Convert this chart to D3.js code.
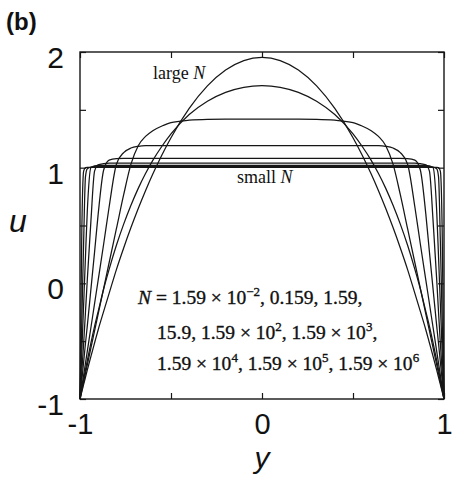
<!DOCTYPE html>
<html>
<head>
<meta charset="utf-8">
<script src="https://cdn.jsdelivr.net/npm/d3@7"></script>
<style>
  body { margin: 0; background: #fff; }
  svg { display: block; }
</style>
</head>
<body>
<svg id="chart" width="457" height="477"></svg>
<script>
// Transverse coordinate y, shared by every profile
const yGrid = [-1, -0.995, -0.99, -0.98, -0.97, -0.96, -0.94, -0.92, -0.9, -0.87, -0.84, -0.8, -0.76, -0.72, -0.68, -0.64, -0.6, -0.55, -0.5, -0.4, -0.3, -0.2, -0.1,
  0, 0.1, 0.2, 0.3, 0.4, 0.5, 0.55, 0.6, 0.64, 0.68, 0.72, 0.76, 0.8, 0.84, 0.87, 0.9, 0.92, 0.94, 0.96, 0.97, 0.98, 0.99, 0.995, 1];

// Velocity profiles u(y), one per value of N
const u_N1_59em2 = [-1, -0.27, 0.45, 0.97, 1.0, 1.003, 1.003, 1.003, 1.003, 1.003, 1.003, 1.003, 1.003, 1.003, 1.003, 1.003, 1.003, 1.003, 1.003, 1.003, 1.003, 1.003, 1.003,
  1.003, 1.003, 1.003, 1.003, 1.003, 1.003, 1.003, 1.003, 1.003, 1.003, 1.003, 1.003, 1.003, 1.003, 1.003, 1.003, 1.003, 1.003, 1.003, 1.0, 0.97, 0.45, -0.27, -1];
const u_N0_159 = [-1, -0.66, -0.32, 0.36, 0.92, 0.99, 1.005, 1.01, 1.01, 1.01, 1.01, 1.01, 1.01, 1.01, 1.01, 1.01, 1.01, 1.01, 1.01, 1.01, 1.01, 1.01, 1.01,
  1.01, 1.01, 1.01, 1.01, 1.01, 1.01, 1.01, 1.01, 1.01, 1.01, 1.01, 1.01, 1.01, 1.01, 1.01, 1.01, 1.01, 1.005, 0.99, 0.92, 0.36, -0.32, -0.66, -1];
const u_N1_59 = [-1, -0.80, -0.59, -0.18, 0.23, 0.62, 1.0, 1.015, 1.02, 1.02, 1.02, 1.02, 1.02, 1.02, 1.02, 1.02, 1.02, 1.02, 1.02, 1.02, 1.02, 1.02, 1.02,
  1.02, 1.02, 1.02, 1.02, 1.02, 1.02, 1.02, 1.02, 1.02, 1.02, 1.02, 1.02, 1.02, 1.02, 1.02, 1.02, 1.015, 1.0, 0.62, 0.23, -0.18, -0.59, -0.80, -1];
const u_N15_9 = [-1, -0.88, -0.76, -0.52, -0.25, 0.03, 0.54, 0.97, 1.025, 1.035, 1.04, 1.04, 1.04, 1.04, 1.04, 1.04, 1.04, 1.04, 1.04, 1.04, 1.04, 1.04, 1.04,
  1.04, 1.04, 1.04, 1.04, 1.04, 1.04, 1.04, 1.04, 1.04, 1.04, 1.04, 1.04, 1.04, 1.04, 1.035, 1.025, 0.97, 0.54, 0.03, -0.25, -0.52, -0.76, -0.88, -1];
const u_N1_59e2 = [-1, -0.92, -0.84, -0.68, -0.52, -0.37, -0.05, 0.27, 0.60, 0.98, 1.065, 1.078, 1.08, 1.08, 1.08, 1.08, 1.08, 1.08, 1.08, 1.08, 1.08, 1.08, 1.08,
  1.08, 1.08, 1.08, 1.08, 1.08, 1.08, 1.08, 1.08, 1.08, 1.08, 1.08, 1.08, 1.078, 1.065, 0.98, 0.60, 0.27, -0.05, -0.37, -0.52, -0.68, -0.84, -0.92, -1];
const u_N1_59e3 = [-1, -0.948, -0.897, -0.794, -0.691, -0.588, -0.382, -0.176, 0.03, 0.34, 0.66, 1.03, 1.13, 1.17, 1.185, 1.19, 1.19, 1.19, 1.19, 1.19, 1.19, 1.19, 1.19,
  1.19, 1.19, 1.19, 1.19, 1.19, 1.19, 1.19, 1.19, 1.19, 1.185, 1.17, 1.13, 1.03, 0.66, 0.34, 0.03, -0.176, -0.382, -0.588, -0.691, -0.794, -0.897, -0.948, -1];
const u_N1_59e4 = [-1, -0.963, -0.926, -0.853, -0.779, -0.706, -0.558, -0.411, -0.264, -0.043, 0.178, 0.472, 0.766, 1.03, 1.19, 1.27, 1.32, 1.36, 1.39, 1.41, 1.418, 1.42, 1.42,
  1.42, 1.42, 1.42, 1.418, 1.41, 1.39, 1.36, 1.32, 1.27, 1.19, 1.03, 0.766, 0.472, 0.178, -0.043, -0.264, -0.411, -0.558, -0.706, -0.779, -0.853, -0.926, -0.963, -1];
const u_N1_59e5 = [-1, -0.956, -0.914, -0.830, -0.748, -0.668, -0.515, -0.372, -0.243, -0.049, 0.121, 0.329, 0.512, 0.675, 0.821, 0.949, 1.063, 1.185, 1.292, 1.459, 1.574, 1.651, 1.695,
  1.709, 1.695, 1.651, 1.574, 1.459, 1.292, 1.185, 1.063, 0.949, 0.821, 0.675, 0.512, 0.329, 0.121, -0.049, -0.243, -0.372, -0.515, -0.668, -0.748, -0.830, -0.914, -0.956, -1];
const u_N1_59e6 = [-1, -0.968, -0.936, -0.874, -0.812, -0.751, -0.632, -0.516, -0.401, -0.243, -0.087, 0.119, 0.306, 0.482, 0.647, 0.801, 0.945, 1.110, 1.259, 1.512, 1.707, 1.844, 1.926,
  1.953, 1.926, 1.844, 1.707, 1.512, 1.259, 1.110, 0.945, 0.801, 0.647, 0.482, 0.306, 0.119, -0.087, -0.243, -0.401, -0.516, -0.632, -0.751, -0.812, -0.874, -0.936, -0.968, -1];

const profiles = [u_N1_59em2, u_N0_159, u_N1_59, u_N15_9, u_N1_59e2, u_N1_59e3, u_N1_59e4, u_N1_59e5, u_N1_59e6];

// N values written as mantissa / power of ten (null = no power)
const nMantissa = ["1.59", "0.159", "1.59", "15.9", "1.59", "1.59", "1.59", "1.59", "1.59"];
const nExponent = ["\u22122", null, null, null, "2", "3", "4", "5", "6"];

// Axis ticks and labels
const xTicks = [-1, -0.5, 0, 0.5, 1];
const xTickLabels = ["-1", "", "0", "", "1"];
const uTicks = [-1, -0.5, 0, 0.5, 1, 1.5, 2];
const uTickLabels = ["-1", "", "0", "", "1", "", "2"];

const svg = d3.select("#chart");
const plot = { left: 80, right: 444, top: 52, bottom: 399 };

const x = d3.scaleLinear().domain([-1, 1]).range([plot.left, plot.right]);
const yScale = d3.scaleLinear().domain([-1, 2]).range([plot.bottom, plot.top]);

const ink = "#161616";

// Profiles
const line = d3.line()
  .x((d, i) => x(yGrid[i]))
  .y(d => yScale(d))
  .curve(d3.curveMonotoneX);

svg.append("g")
  .selectAll("path")
  .data(profiles)
  .join("path")
  .attr("d", line)
  .attr("fill", "none")
  .attr("stroke", ink)
  .attr("stroke-width", 1.25);

// Frame
svg.append("rect")
  .attr("x", plot.left).attr("y", plot.top)
  .attr("width", plot.right - plot.left).attr("height", plot.bottom - plot.top)
  .attr("fill", "none").attr("stroke", ink).attr("stroke-width", 1.4);

const tickLen = 6;
const axisFont = "'Liberation Sans', Arial, sans-serif";

function styleAxis(g) {
  g.select(".domain").remove();
  g.selectAll(".tick line").attr("stroke", ink).attr("stroke-width", 1.2);
  g.selectAll(".tick text")
    .attr("font-family", axisFont)
    .attr("font-size", 29)
    .attr("fill", "#111");
}

// Bottom axis with labels
svg.append("g")
  .attr("transform", `translate(0,${plot.bottom})`)
  .call(d3.axisBottom(x).tickValues(xTicks).tickSize(-tickLen).tickPadding(14)
    .tickFormat((d, i) => xTickLabels[i]))
  .call(styleAxis);

// Top axis (ticks only)
svg.append("g")
  .attr("transform", `translate(0,${plot.top})`)
  .call(d3.axisTop(x).tickValues(xTicks).tickSize(-tickLen).tickFormat(""))
  .call(styleAxis);

// Left axis with labels
svg.append("g")
  .attr("transform", `translate(${plot.left},0)`)
  .call(d3.axisLeft(yScale).tickValues(uTicks).tickSize(-tickLen).tickPadding(16)
    .tickFormat((d, i) => uTickLabels[i]))
  .call(styleAxis)
  .call(g => g.selectAll(".tick text").attr("font-size", 30).attr("dy", "0.52em"));

// Right axis (ticks only)
svg.append("g")
  .attr("transform", `translate(${plot.right},0)`)
  .call(d3.axisRight(yScale).tickValues(uTicks).tickSize(-tickLen).tickFormat(""))
  .call(styleAxis);

// Axis titles
svg.append("text")
  .attr("x", x(0)).attr("y", 468)
  .attr("text-anchor", "middle")
  .attr("font-family", axisFont).attr("font-style", "italic")
  .attr("font-size", 30).attr("fill", "#111")
  .text("y");

svg.append("text")
  .attr("x", 18).attr("y", 232)
  .attr("text-anchor", "middle")
  .attr("font-family", axisFont).attr("font-style", "italic")
  .attr("font-size", 32).attr("fill", "#111")
  .text("u");

// Panel tag
svg.append("text")
  .attr("x", 6).attr("y", 30)
  .attr("font-family", axisFont).attr("font-weight", "bold")
  .attr("font-size", 24).attr("fill", "#111")
  .text("(b)");

// Annotations inside the plot
const serif = "'Liberation Serif', 'Times New Roman', serif";
const noteSize = 18;

function labelWithN(xPos, yPos, word) {
  const t = svg.append("text")
    .attr("x", xPos).attr("y", yPos)
    .attr("font-family", serif).attr("font-size", noteSize).attr("fill", "#111");
  t.append("tspan").text(word + " ");
  t.append("tspan").attr("font-style", "italic").text("N");
}
labelWithN(153, 79, "large");
labelWithN(237, 183, "small");

// List of N values, three per line
const listSize = 19.5;
const supShift = 8;
const lineStarts = [[138, 304], [157, 339], [157, 370]];
const perLine = 3;

lineStarts.forEach(([lx, ly], li) => {
  const t = svg.append("text")
    .attr("x", lx).attr("y", ly)
    .attr("font-family", serif).attr("font-size", listSize).attr("fill", "#111")
    .attr("stroke", "#111").attr("stroke-width", 0.35)
    .attr("xml:space", "preserve");
  let pending = 0; // vertical offset still to undo after a superscript
  const put = (s) => {
    const ts = t.append("tspan").text(s);
    if (pending) { ts.attr("dy", pending); pending = 0; }
    return ts;
  };
  if (li === 0) {
    put("N").attr("font-style", "italic");
    put(" = ");
  }
  const last = Math.min((li + 1) * perLine, nMantissa.length);
  for (let k = li * perLine; k < last; k++) {
    const e = nExponent[k];
    if (e === null) {
      put(nMantissa[k]);
    } else {
      put(nMantissa[k] + " \u00d7 10");
      put(e).attr("font-size", 13).attr("dy", -supShift);
      pending = supShift;
    }
    if (k < nMantissa.length - 1) put(", ");
  }
});
</script>
</body>
</html>
